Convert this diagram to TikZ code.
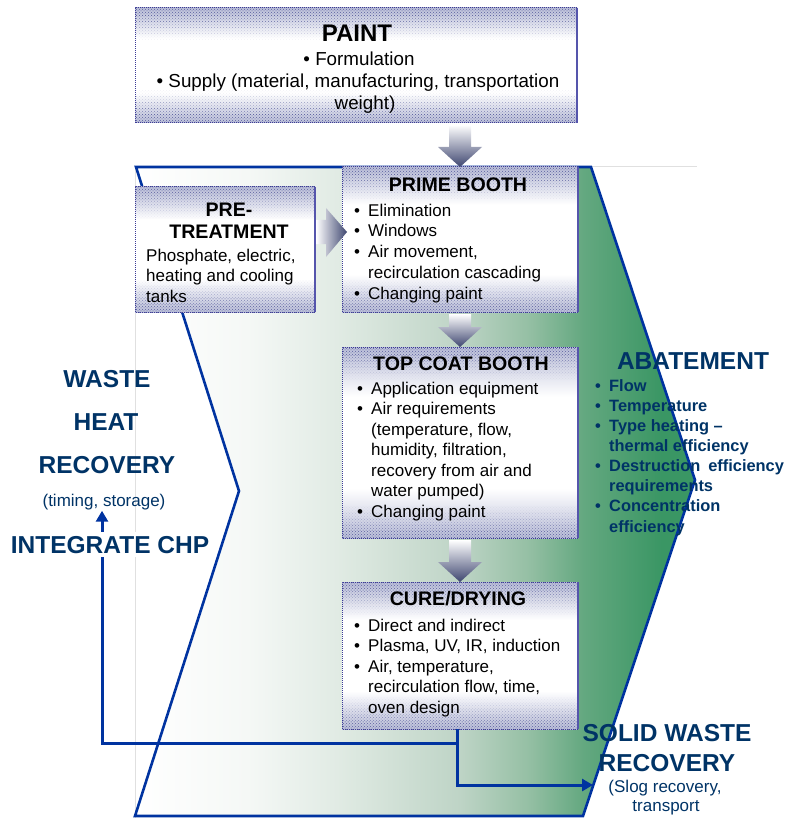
\documentclass[tikz,border=0pt]{standalone}
\usepackage{fontspec}
\setmainfont{Liberation Sans}
\usetikzlibrary{calc,patterns,arrows.meta}
\definecolor{lineblue}{RGB}{0,51,160}
\definecolor{txtblue}{RGB}{0,51,102}
\definecolor{boxedge}{RGB}{186,190,216}
\definecolor{patc}{RGB}{90,95,158}
\definecolor{bordl}{RGB}{60,60,150}
\definecolor{bordr}{RGB}{85,85,172}
\definecolor{arrdk}{RGB}{62,70,112}
\definecolor{gA}{RGB}{245,248,246}
\definecolor{gB}{RGB}{225,235,228}
\definecolor{gC}{RGB}{190,212,198}
\definecolor{gD}{RGB}{150,192,165}
\definecolor{gE}{RGB}{100,168,128}
\definecolor{gF}{RGB}{58,150,100}
\pgfdeclarehorizontalshading{chev}{100bp}{color(0bp)=(white); color(25bp)=(white); color(35bp)=(gA); color(43bp)=(gB); color(54bp)=(gC); color(60bp)=(gD); color(65bp)=(gE); color(72bp)=(gF); color(100bp)=(gF)}
\pgfdeclareverticalshading{boxsh}{100bp}{color(0bp)=(boxedge); color(25bp)=(boxedge); color(38bp)=(white); color(62bp)=(white); color(75bp)=(boxedge); color(100bp)=(boxedge)}
\newcommand\mybul{\makebox[14pt][l]{\textbullet}}
\newcommand\myind{\hspace*{14pt}}
\newcommand\boxdeco[1]{%
  \shade[shading=boxsh] (#1.south west) rectangle (#1.north east);
  \foreach \a/\b/\o in {0/8/1,8/14/.7,14/20/.42,20/26/.22,26/32/.08}{%
    \fill[pattern=crosshatch dots, pattern color=patc, fill opacity=\o] ($(#1.north west)+(0,\a)$) rectangle ($(#1.north east)+(0,\b)$);
    \fill[pattern=crosshatch dots, pattern color=patc, fill opacity=\o] ($(#1.south west)+(0,-\a)$) rectangle ($(#1.south east)+(0,-\b)$);
  }
  \draw[bordl, densely dotted, line width=1pt] (#1.south east) -- (#1.south west) -- (#1.north west) -- (#1.north east);
  \draw[bordr, line width=1.8pt] (#1.north east) -- (#1.south east);
}
\newcommand\dnarrow[2]{%
  \shade[top color=white, bottom color=arrdk] ($(#2.north |- #1.south)+(-11,2)$) -- ($(#2.north)+(-11,-20)$) -- ($(#2.north)+(-22,-20)$) -- (#2.north) -- ($(#2.north)+(22,-20)$) -- ($(#2.north)+(11,-20)$) -- ($(#2.north |- #1.south)+(11,2)$) -- cycle;
}
\begin{document}
\begin{tikzpicture}[x=1pt,y=-1pt,
  boxn/.style={inner sep=0pt,outer sep=0pt,anchor=north west},
  ttl/.style={font=\bfseries\fontsize{19.6}{22}\selectfont, anchor=base, inner sep=0pt},
  bodyt/.style={font=\fontsize{17}{20}\selectfont, anchor=base west, inner sep=0pt},
  bodyc/.style={font=\fontsize{18.8}{22}\selectfont, anchor=base, inner sep=0pt},
  bigblue/.style={font=\bfseries\fontsize{24.5}{28}\selectfont, text=txtblue, anchor=base, inner sep=0pt},
  abt/.style={font=\bfseries\fontsize{16.4}{20}\selectfont, text=txtblue, anchor=base west, inner sep=0pt},
  smallblue/.style={font=\fontsize{17}{19}\selectfont, text=txtblue, anchor=base, inner sep=1pt},
  flow/.style={draw=lineblue, line width=3pt},
  flowarr/.style={flow, -{Triangle[length=11pt,width=12pt]}},
]
\useasboundingbox (0,0) rectangle (785,818);
% faint frame
\draw[black!12, line width=.6pt] (697,166) -- (135,166) -- (135,818);
% chevron
\shade[shading=chev] (136,167) -- (591,167) -- (695,480) -- (583,816) -- (135,816) -- (239,491) -- cycle;
\draw[lineblue, line width=2.6pt, line join=miter] (136,167) -- (591,167) -- (695,480) -- (583,816) -- (135,816) -- (239,491) -- cycle;

% boxes
\node[boxn, minimum width=442pt, minimum height=115pt] (paint) at (135,8) {};
\boxdeco{paint}
\node[boxn, minimum width=180pt, minimum height=125pt] (pre) at (135,187) {};
\boxdeco{pre}
\node[boxn, minimum width=236pt, minimum height=145pt] (prime) at (342,167) {};
\boxdeco{prime}
\node[boxn, minimum width=236pt, minimum height=191pt] (top) at (342,347) {};
\boxdeco{top}
\node[boxn, minimum width=236pt, minimum height=147pt] (cure) at (342,582) {};
\boxdeco{cure}

% block arrows
\dnarrow{paint}{prime}
\dnarrow{prime}{top}
\dnarrow{top}{cure}
\coordinate (ptip) at ($(prime.west)+(5,-7.5)$);
\shade[left color=white, right color=arrdk] ($(pre.east |- ptip)+(1,-12)$) -- ($(ptip)+(-21,-12)$) -- ($(ptip)+(-21,-24)$) -- (ptip) -- ($(ptip)+(-21,25)$) -- ($(ptip)+(-21,12)$) -- ($(pre.east |- ptip)+(1,12)$) -- cycle;

% box texts
\node[font=\bfseries\fontsize{24}{28}\selectfont, anchor=base, inner sep=0pt] (paint-t) at (357,42) {PAINT};
\node[bodyc] (paint-l1) at (359,66) {\textbullet\ Formulation};
\node[bodyc] (paint-l2) at (358,88) {\textbullet\ Supply (material, manufacturing, transportation};
\node[bodyc] (paint-l3) at (365,110) {weight)};

\node[ttl] (pre-t1) at (229,216) {PRE-};
\node[ttl] (pre-t2) at (229,238) {TREATMENT};
\foreach \txt [count=\i] in {{Phosphate, electric,},{heating and cooling},{tanks}}
  \node[bodyt] (pre-l\i) at (146,{261+(\i-1)*20.5}) {\txt};

\node[ttl] (prime-t) at (458,192) {PRIME BOOTH};
\foreach \txt [count=\i] in {{\mybul Elimination},{\mybul Windows},{\mybul Air movement,},{\myind recirculation cascading},{\mybul Changing paint}}
  \node[bodyt] (prime-l\i) at (354,{216+(\i-1)*20.75}) {\txt};

\node[ttl] (top-t) at (461,370) {TOP COAT BOOTH};
\foreach \txt [count=\i] in {{\mybul Application equipment},{\mybul Air requirements},{\myind (temperature, flow,},{\myind humidity, filtration,},{\myind recovery from air and},{\myind water pumped)},{\mybul Changing paint}}
  \node[bodyt] (top-l\i) at (357,{394+(\i-1)*20.5}) {\txt};

\node[ttl] (cure-t) at (458,605) {CURE/DRYING};
\foreach \txt [count=\i] in {{\mybul Direct and indirect},{\mybul Plasma, UV, IR, induction},{\mybul Air, temperature,},{\myind recirculation flow, time,},{\myind oven design}}
  \node[bodyt] (cure-l\i) at (354,{631+(\i-1)*20.5}) {\txt};

% abatement
\node[bigblue] (abat) at (693,369) {ABATEMENT};
\foreach \txt [count=\i] in {{\mybul Flow},{\mybul Temperature},{\mybul Type heating --},{\myind thermal efficiency},{\mybul Destruction\hspace{8pt}efficiency},{\myind requirements},{\mybul Concentration},{\myind efficiency}}
  \node[abt] (abat-l\i) at (595,{391+(\i-1)*20.15}) {\txt};

% left: waste heat recovery
\node[bigblue] (whr1) at (107,387) {WASTE};
\node[bigblue] (whr2) at (106,430) {HEAT};
\node[bigblue] (whr3) at (107,473) {RECOVERY};
\node[smallblue] (timing) at (104,506) {(timing, storage)};

% solid waste recovery
\node[bigblue] (swr1) at (667,741) {SOLID WASTE};
\node[bigblue] (swr2) at (667,771) {RECOVERY};
\node[smallblue] (slog1) at (665,792) {(Slog recovery,};
\node[smallblue] (slog2) at (666,811) {transport};
\coordinate (swend) at (593,785);

% connectors
\coordinate (j1) at ($(cure.south)+(-3,14)$);
\draw[flowarr] ($(cure.south)+(-3,0)$) |- (swend);
\draw[flowarr] (j1) -| ($(timing.south)+(-2,0)$);

\node[bigblue, fill=white, inner xsep=2pt, inner ysep=4pt] (chp) at (110,553) {INTEGRATE CHP};
\end{tikzpicture}
\end{document}
